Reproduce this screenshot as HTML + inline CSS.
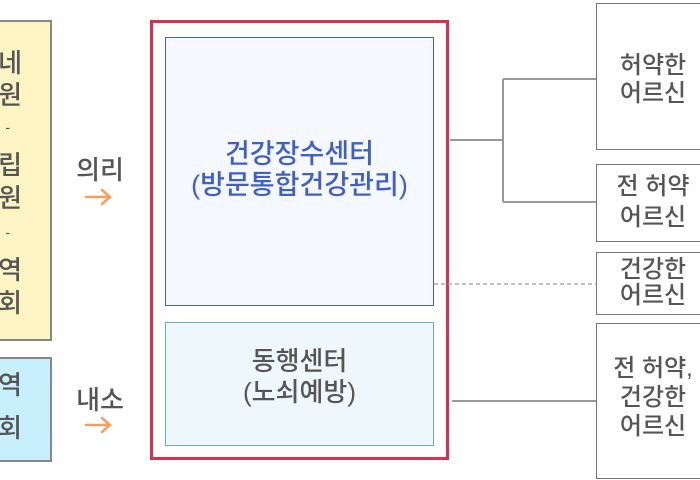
<!DOCTYPE html>
<html><head><meta charset="utf-8"><style>
body{margin:0;width:700px;height:480px;background:#fff;position:relative;overflow:hidden;font-family:"Liberation Sans","Noto Sans CJK KR","NanumGothic",sans-serif;color:#555;font-weight:500}
.a{position:absolute;box-sizing:border-box}
.t{position:absolute;white-space:nowrap;text-align:center}
.c{position:absolute;right:678px;font-size:26px;line-height:30px;color:#555}
</style></head><body>
<div class="a" style="left:-4px;top:20px;width:56px;height:321px;background:#fdf4c4;border:2px solid #888"></div>
<div class="a" style="left:-4px;top:357px;width:56px;height:105px;background:#c8f0fc;border:2px solid #888"></div>
<div class="c" style="top:48px">네</div>
<div class="c" style="top:80px">원</div>
<div class="c" style="top:112px;font-size:14px;right:690px">-</div>
<div class="c" style="top:150px">립</div>
<div class="c" style="top:183px">원</div>
<div class="c" style="top:217px;font-size:14px;right:690px">-</div>
<div class="c" style="top:255px">역</div>
<div class="c" style="top:288px">회</div>
<div class="c" style="top:370px">역</div>
<div class="c" style="top:413px">회</div>
<div class="t" style="left:60px;top:153px;width:80px;font-size:26px;line-height:34px">의리</div>
<div class="t" style="left:60px;top:383px;width:80px;font-size:26px;line-height:34px">내소</div>
<div class="a" style="left:150px;top:20px;width:299px;height:440px;border:3px solid #d8304e"></div>
<div class="a" style="left:165px;top:37px;width:269px;height:269px;background:#f6f8ff;border:1.5px solid #4a5fa8"></div>
<div class="t" style="left:165px;top:139px;width:269px;font-size:27px;line-height:31px;color:#3f5fc6">건강장수센터<br>(방문통합건강관리)</div>
<div class="a" style="left:165px;top:322px;width:269px;height:124px;background:#eef8fc;border:1.5px solid #6aaabb"></div>
<div class="t" style="left:165px;top:346px;width:269px;font-size:26px;line-height:31px;color:#555">동행센터<br>(노쇠예방)</div>
<svg class="a" style="left:0;top:0" width="700" height="480">
<g stroke="#999" stroke-width="2" fill="none">
<path d="M450 140H503M503 79V202M503 79H596M503 202H596M452 401H596"/>
<path d="M434 284H596" stroke-dasharray="4 3" stroke-width="1.2"/>
</g>
<g stroke="#f0a060" stroke-width="2.5" fill="none" stroke-linecap="round">
<path d="M86 197H110M102 190L110 197L102 204"/>
<path d="M86 425H110M102 418L110 425L102 432"/>
</g></svg>
<div class="a" style="left:596px;top:3px;width:110px;height:147px;border:1.5px solid #777"></div>
<div class="a" style="left:596px;top:164px;width:110px;height:78px;border:1.5px solid #777"></div>
<div class="a" style="left:596px;top:252px;width:110px;height:63px;border:1.5px solid #777"></div>
<div class="a" style="left:596px;top:323px;width:110px;height:156px;border:1.5px solid #777"></div>
<div class="t" style="left:600px;top:52px;width:106px;font-size:24px;line-height:28px">허약한<br>어르신</div>
<div class="t" style="left:600px;top:171px;width:106px;font-size:24px;line-height:31px">전 허약<br>어르신</div>
<div class="t" style="left:600px;top:257px;width:106px;font-size:24px;line-height:26px">건강한<br>어르신</div>
<div class="t" style="left:600px;top:354px;width:106px;font-size:24px;line-height:29px">전 허약,<br>건강한<br>어르신</div>
</body></html>
